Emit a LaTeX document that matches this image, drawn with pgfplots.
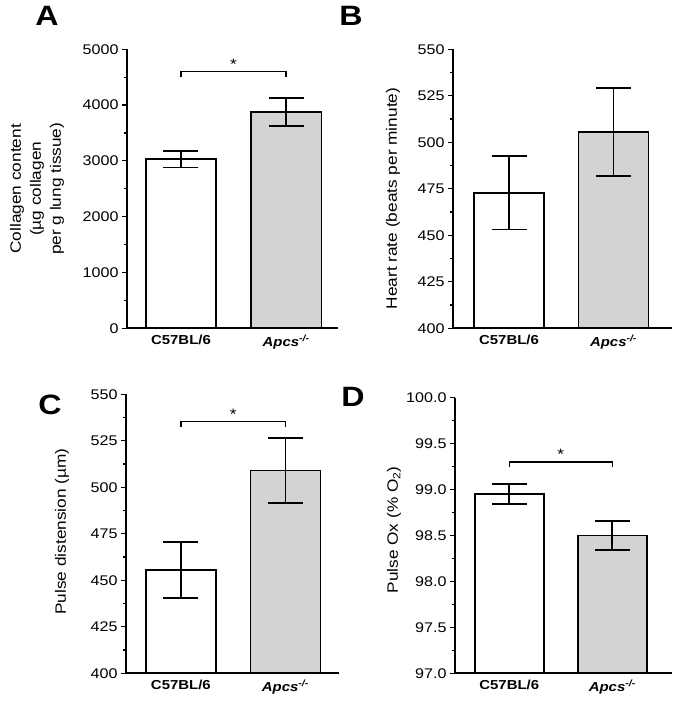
\documentclass[border=0pt]{standalone}
\usepackage{fontspec}
\setmainfont{Liberation Sans}[FakeStretch=1.15]
\usepackage{pgfplots}
\pgfplotsset{compat=1.18}
\definecolor{bargray}{RGB}{211,211,211}
\pgfplotsset{
  panel/.style={
    scale only axis,
    axis x line=bottom, axis y line=left,
    axis line style={line width=1.7pt,-},
    bar width=0.67,
    xtick={1,2},
    xticklabels={\textbf{C57BL/6},\textbf{\textit{Apcs}\textsuperscript{\textit{-/-}}}},
    x tick label style={font=\fontsize{13}{15}\selectfont, yshift=-1pt},
    xtick style={draw=none},
    /pgf/number format/assume math mode=true,
    y tick label style={font=\fontsize{14}{17}\selectfont},
    ytick align=outside,
    major tick length=5pt, minor tick length=3pt,
    minor y tick num=1,
    ytick style={line width=1.2pt, black},
    ylabel style={font=\fontsize{15}{20}\selectfont, align=center, anchor=center},
    clip=true,
  },
  errs/.style={error bars/y dir=both, error bars/y explicit,
    error bars/error bar style={line width=1.7pt, black},
    error bars/error mark options={rotate=90, line width=1.7pt, mark size=17.5pt, black}},
  barA/.style={ybar, bar shift=0pt, fill=white, draw=black, line width=1.7pt, errs},
  barB/.style={ybar, bar shift=0pt, fill=bargray, draw=black, line width=1.7pt, errs},
  brk/.style={sharp plot, black, line width=1.3pt, mark=none},
}
\begin{document}
\begin{tikzpicture}
\path (0pt,0pt) rectangle (672pt,701pt);
\node[font=\fontsize{28}{30}\selectfont\bfseries] at (47pt,685pt) {A};
\node[font=\fontsize{28}{30}\selectfont\bfseries] at (351pt,685pt) {B};
\node[font=\fontsize{28}{30}\selectfont\bfseries] at (50pt,296pt) {C};
\node[font=\fontsize{28}{30}\selectfont\bfseries] at (353pt,304pt) {D};

% Panel A
\begin{axis}[panel, at={(127pt,372.7pt)}, anchor=south west, width=211pt, height=279pt,
  xmin=0.487, xmax=2.493, ymin=0, ymax=5000, ytick={0,1000,...,5000},
  /pgf/number format/1000 sep={},
  ylabel={Collagen content\\(µg collagen\\per g lung tissue)},
  ylabel style={at={(axis description cs:-0.427,0.5)}}]
\addplot[barA] coordinates {(1,3030) +- (0,148)};
\addplot[barB] coordinates {(2,3876) +- (0,245)};
\addplot[brk] coordinates {(1,4500) (1,4600) (2,4600) (2,4500)};
\node[font=\fontsize{15}{18}\selectfont, anchor=south, inner sep=1pt] at (axis cs:1.5,4620) {*};
\end{axis}

% Panel B
\begin{axis}[panel, at={(453pt,372.7pt)}, anchor=south west, width=219pt, height=279pt,
  xmin=0.464, xmax=2.560, ymin=400, ymax=550, ytick={400,425,...,550},
  ylabel={Heart rate (beats per minute)},
  ylabel style={at={(axis description cs:-0.274,0.465)}}]
\addplot[barA] coordinates {(1,472.8) +- (0,19.7)};
\addplot[barB] coordinates {(2,505.5) +- (0,23.6)};
\end{axis}

% Panel C
\begin{axis}[panel, at={(126pt,27.7pt)}, anchor=south west, width=213pt, height=279pt,
  xmin=0.475, xmax=2.513, ymin=400, ymax=550, ytick={400,425,...,550},
  ylabel={Pulse distension (µm)},
  ylabel style={at={(axis description cs:-0.30,0.508)}}]
\addplot[barA] coordinates {(1,455.5) +- (0,15)};
\addplot[barB] coordinates {(2,509) +- (0,17.5)};
\addplot[brk] coordinates {(1,532.6) (1,535.3) (2,535.3) (2,532.6)};
\node[font=\fontsize{15}{18}\selectfont, anchor=south, inner sep=1pt] at (axis cs:1.5,535.8) {*};
\end{axis}

% Panel D
\begin{axis}[panel, at={(455pt,27.7pt)}, anchor=south west, width=217pt, height=275.7pt,
  xmin=0.473, xmax=2.580, ymin=97, ymax=100, ytick={97,97.5,...,100},
  yticklabel style={/pgf/number format/.cd, fixed, fixed zerofill, precision=1},
  ylabel={Pulse Ox (\% O\textsubscript{2})},
  ylabel style={at={(axis description cs:-0.281,0.52)}}]
\addplot[barA] coordinates {(1,98.95) +- (0,0.11)};
\addplot[barB] coordinates {(2,98.5) +- (0,0.16)};
\addplot[brk] coordinates {(1,99.25) (1,99.30) (2,99.30) (2,99.25)};
\node[font=\fontsize{15}{18}\selectfont, anchor=south, inner sep=1pt] at (axis cs:1.5,99.31) {*};
\end{axis}
\end{tikzpicture}
\end{document}
